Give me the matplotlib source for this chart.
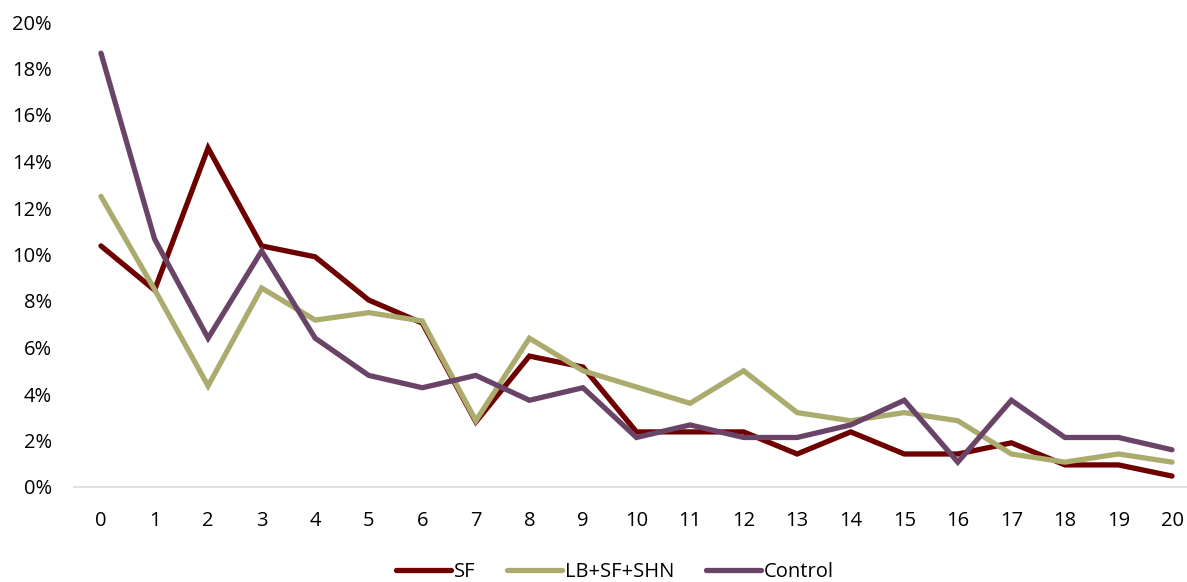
import matplotlib
matplotlib.use("Agg")
import matplotlib.pyplot as plt
from matplotlib.ticker import PercentFormatter

days = list(range(21))
sf = [10.37, 8.47, 14.58, 10.37, 9.90, 8.04, 7.05, 2.80, 5.63, 5.16, 2.37,
      2.37, 2.37, 1.42, 2.37, 1.42, 1.42, 1.90, 0.95, 0.95, 0.47]
lb_sf_shn = [12.50, 8.50, 4.35, 8.56, 7.18, 7.50, 7.14, 2.85, 6.40, 5.00, 4.30,
             3.60, 5.00, 3.20, 2.85, 3.20, 2.85, 1.42, 1.07, 1.42, 1.07]
control = [18.66, 10.67, 6.40, 10.15, 6.40, 4.80, 4.27, 4.80, 3.73, 4.27, 2.13,
           2.67, 2.13, 2.13, 2.67, 3.73, 1.07, 3.73, 2.13, 2.13, 1.60]
series_names = ["SF", "LB+SF+SHN", "Control"]
colors = ["#6E0000", "#ABAB6D", "#6A4467"]
y_ticks = list(range(0, 21, 2))

plt.rcParams["font.family"] = ["Open Sans", "DejaVu Sans"]

fig = plt.figure(figsize=(11.87, 5.82), dpi=100)
ax = fig.add_axes([74.2 / 1187, 1 - 487 / 582, (1198.8 - 74.2) / 1187, (487 - 22) / 582])

for vals, name, c in zip([sf, lb_sf_shn, control], series_names, colors):
    ax.plot(days, vals, color=c, lw=3.8, label=name, solid_joinstyle="miter",
            solid_capstyle="round")

ax.set_xlim(-0.5, 20.5)
ax.set_ylim(0, 20)
ax.set_xticks(days)
ax.set_yticks(y_ticks)
ax.yaxis.set_major_formatter(PercentFormatter(decimals=0))
ax.tick_params(length=0, labelsize=14.5, colors="#000000")
ax.tick_params(axis="x", pad=17)
ax.tick_params(axis="y", pad=16)
for s in ["top", "right", "left"]:
    ax.spines[s].set_visible(False)
ax.spines["bottom"].set_color("#D9D9D9")
ax.spines["bottom"].set_linewidth(1.2)

fig.legend(loc="center", bbox_to_anchor=(615 / 1187, 1 - 572 / 582), ncol=3,
           frameon=False, fontsize=14.5, handlelength=2.7, handletextpad=0.15,
           columnspacing=1.6)

fig.savefig("out.png", dpi=100)
